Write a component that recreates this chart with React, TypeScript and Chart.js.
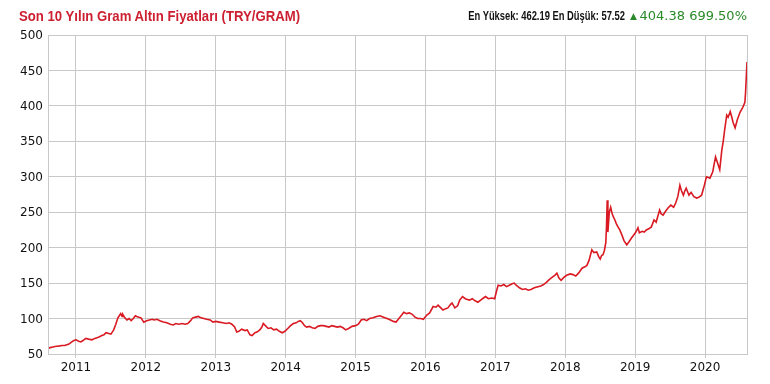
import React, { useEffect, useRef } from "react";
import { Chart, registerables } from "chart.js";

Chart.register(...registerables);

const titleText = "Son 10 Yılın Gram Altın Fiyatları (TRY/GRAM)";
const statsText = "En Yüksek: 462.19 En Düşük: 57.52";
const changeText = "404.38 699.50%";

const yearTicks = [2011, 2012, 2013, 2014, 2015, 2016, 2017, 2018, 2019, 2020];

const dates = [
  2010.60, 2010.63, 2010.67, 2010.70, 2010.73, 2010.77, 2010.80, 2010.84, 2010.87, 2010.90,
  2010.94, 2010.97, 2011.00, 2011.04, 2011.07, 2011.10, 2011.14, 2011.18, 2011.23, 2011.27,
  2011.30, 2011.33, 2011.37, 2011.40, 2011.43, 2011.47, 2011.50, 2011.54, 2011.57, 2011.60,
  2011.62, 2011.64, 2011.66, 2011.67, 2011.70, 2011.73, 2011.76, 2011.79, 2011.82, 2011.85,
  2011.87, 2011.90, 2011.93, 2011.97, 2012.01, 2012.05, 2012.09, 2012.12, 2012.16, 2012.20,
  2012.25, 2012.30, 2012.35, 2012.39, 2012.43, 2012.47, 2012.52, 2012.56, 2012.60, 2012.64,
  2012.67, 2012.71, 2012.75, 2012.79, 2012.83, 2012.87, 2012.92, 2012.96, 2013.00, 2013.05,
  2013.10, 2013.15, 2013.19, 2013.23, 2013.27, 2013.30, 2013.33, 2013.37, 2013.42, 2013.45,
  2013.49, 2013.52, 2013.56, 2013.59, 2013.63, 2013.66, 2013.68, 2013.71, 2013.75, 2013.79,
  2013.83, 2013.87, 2013.91, 2013.95, 2013.99, 2014.03, 2014.07, 2014.11, 2014.15, 2014.18,
  2014.21, 2014.24, 2014.27, 2014.30, 2014.34, 2014.38, 2014.42, 2014.46, 2014.50, 2014.54,
  2014.58, 2014.62, 2014.66, 2014.70, 2014.74, 2014.78, 2014.82, 2014.86, 2014.90, 2014.95,
  2015.00, 2015.04, 2015.08, 2015.12, 2015.16, 2015.20, 2015.25, 2015.30, 2015.35, 2015.40,
  2015.45, 2015.50, 2015.54, 2015.58, 2015.62, 2015.66, 2015.69, 2015.73, 2015.77, 2015.81,
  2015.85, 2015.89, 2015.93, 2015.97, 2016.02, 2016.06, 2016.11, 2016.15, 2016.18, 2016.22,
  2016.25, 2016.29, 2016.32, 2016.36, 2016.38, 2016.42, 2016.46, 2016.49, 2016.53, 2016.57,
  2016.60, 2016.63, 2016.67, 2016.71, 2016.75, 2016.79, 2016.83, 2016.86, 2016.90, 2016.95,
  2016.99, 2017.02, 2017.04, 2017.08, 2017.12, 2017.16, 2017.20, 2017.24, 2017.27, 2017.31,
  2017.35, 2017.39, 2017.43, 2017.47, 2017.51, 2017.55, 2017.58, 2017.61, 2017.65, 2017.69,
  2017.73, 2017.77, 2017.81, 2017.85, 2017.88, 2017.91, 2017.94, 2017.98, 2018.02, 2018.07,
  2018.11, 2018.15, 2018.19, 2018.24, 2018.28, 2018.31, 2018.34, 2018.38, 2018.41, 2018.45,
  2018.48, 2018.50, 2018.52, 2018.54, 2018.56, 2018.58, 2018.59, 2018.60, 2018.61, 2018.63,
  2018.65, 2018.67, 2018.69, 2018.71, 2018.73, 2018.75, 2018.78, 2018.81, 2018.84, 2018.88,
  2018.91, 2018.95, 2018.98, 2019.01, 2019.04, 2019.06, 2019.10, 2019.13, 2019.16, 2019.20,
  2019.23, 2019.27, 2019.30, 2019.35, 2019.37, 2019.40, 2019.44, 2019.47, 2019.51, 2019.55,
  2019.58, 2019.61, 2019.64, 2019.66, 2019.69, 2019.71, 2019.73, 2019.77, 2019.80, 2019.84,
  2019.88, 2019.91, 2019.95, 2019.99, 2020.02, 2020.07, 2020.11, 2020.13, 2020.15, 2020.18,
  2020.21, 2020.24, 2020.26, 2020.28, 2020.31, 2020.33, 2020.36, 2020.38, 2020.40, 2020.43,
  2020.46, 2020.50, 2020.54, 2020.57, 2020.58, 2020.59, 2020.60,
];

const prices = [
  57.5, 59, 60, 60.5, 61, 61.5, 62, 62, 63, 64,
  67, 69, 70, 68, 67, 69, 72, 71, 70, 72,
  73, 74, 76, 77, 80, 79, 78, 84, 92, 101,
  104, 107, 103, 106, 101, 98, 100, 97, 100, 104,
  103, 102, 101, 95, 97, 98, 99, 98, 99, 97,
  95, 94, 92, 91, 93, 92, 93, 92, 93, 97,
  101, 102, 103, 101, 100, 99, 98, 95, 96, 95,
  94, 93, 94, 92, 88, 81, 82, 85, 83, 84,
  77, 76, 80, 81, 84, 88, 93, 90, 86, 87,
  84, 85, 82, 80, 82, 86, 90, 93, 94, 96,
  97, 94, 90, 88, 89, 87, 86, 89, 90, 90,
  89, 88, 90, 89, 88, 89, 87, 84, 86, 89,
  90, 92, 98, 99, 97, 100, 101, 103, 104, 102,
  100, 98, 96, 95, 100, 105, 109, 107, 108, 106,
  102, 100, 100, 99, 105, 108, 117, 116, 119, 115,
  112, 114, 115, 120, 122, 115, 118, 126, 131, 128,
  127, 126, 128, 125, 123, 126, 129, 131, 128, 129,
  128, 140, 147, 146, 148, 145, 147, 149, 150, 146,
  143, 141, 142, 140, 141, 143, 144, 145, 146, 148,
  151, 155, 158, 161, 164, 157, 154, 158, 161, 163,
  162, 160, 164, 171, 173, 175, 182, 197, 193, 194,
  187, 184, 189, 190, 196, 207, 230, 267, 222, 250,
  257, 248, 243, 239, 234, 230, 225, 218, 210, 204,
  208, 214, 218, 222, 228, 221, 223, 222, 225, 227,
  229, 239, 236, 253, 248, 246, 252, 256, 260, 257,
  263, 272, 288, 281, 274, 280, 284, 274, 278, 272,
  270, 271, 274, 288, 300, 298, 307, 318, 328, 319,
  310, 338, 350, 366, 387, 384, 392, 385, 377, 369,
  380, 391, 398, 405, 420, 441, 462,
];

const gridColor = "#c8c8c8";
const lineColor = "#d91a22";
const tickFont = { family: "'DejaVu Sans', Verdana, sans-serif", size: 12 };
const headFont = "'Liberation Sans', Arial, sans-serif";

const frameBox = {
  id: "frameBox",
  afterDraw(chart: any) {
    const { ctx, chartArea } = chart;
    ctx.save();
    ctx.strokeStyle = gridColor;
    ctx.lineWidth = 1;
    ctx.strokeRect(
      Math.round(chartArea.left) + 0.5,
      Math.round(chartArea.top) + 0.5,
      Math.round(chartArea.right - chartArea.left),
      Math.round(chartArea.bottom - chartArea.top)
    );
    ctx.restore();
  },
};

export default function App() {
  const canvasRef = useRef<HTMLCanvasElement>(null);

  useEffect(() => {
    document.body.style.margin = "0";
    const points = dates.map((d, i) => ({ x: d, y: prices[i] }));
    const chart = new Chart(canvasRef.current as HTMLCanvasElement, {
      type: "line",
      data: {
        datasets: [
          {
            data: points,
            borderColor: lineColor,
            borderWidth: 1.6,
            pointRadius: 0,
            tension: 0,
            fill: false,
          },
        ],
      },
      options: {
        animation: false,
        responsive: false,
        devicePixelRatio: 1,
        layout: { padding: { top: 35, right: 23, left: 0, bottom: 0 } },
        plugins: {
          legend: { display: false },
          tooltip: { enabled: false },
          title: { display: false },
        },
        scales: {
          x: {
            type: "linear",
            min: 2010.6,
            max: 2020.6,
            afterBuildTicks: (scale: any) => {
              scale.ticks = yearTicks.map((v) => ({ value: v }));
            },
            afterFit: (scale: any) => {
              scale.height = 30;
            },
            ticks: {
              autoSkip: false,
              maxRotation: 0,
              padding: 3,
              color: "#111",
              font: tickFont,
              callback: (v: any) => String(v),
            },
            grid: { color: gridColor, tickLength: 4, drawTicks: true },
            border: { color: gridColor },
          },
          y: {
            type: "linear",
            min: 50,
            max: 500,
            afterFit: (scale: any) => {
              scale.width = 48;
            },
            ticks: {
              stepSize: 50,
              padding: 5,
              labelOffset: 1,
              color: "#111",
              font: tickFont,
            },
            grid: { color: gridColor, drawTicks: false },
            border: { color: gridColor },
          },
        },
      },
      plugins: [frameBox],
    });
    return () => chart.destroy();
  }, []);

  return (
    <div style={{ position: "relative", width: 770, height: 384, background: "#fff" }}>
      <canvas ref={canvasRef} width={770} height={384} style={{ display: "block" }} />
      <div
        style={{
          position: "absolute",
          left: 19,
          top: 8,
          whiteSpace: "nowrap",
          fontFamily: headFont,
          fontWeight: "bold",
          fontSize: 14,
          color: "#cc1f30",
          lineHeight: "16px",
          transform: "scaleX(0.94)",
          transformOrigin: "left center",
        }}
      >
        {titleText}
      </div>
      <div
        style={{
          position: "absolute",
          right: 145,
          top: 8,
          whiteSpace: "nowrap",
          fontFamily: headFont,
          fontWeight: "bold",
          fontSize: 12.5,
          color: "#111",
          lineHeight: "16px",
          transform: "scaleX(0.75)",
          transformOrigin: "right center",
        }}
      >
        {statsText}
      </div>
      <div
        style={{
          position: "absolute",
          left: 630,
          top: 8,
          whiteSpace: "nowrap",
          fontFamily: "'DejaVu Sans', sans-serif",
          fontSize: 9,
          color: "#2a8a2a",
          lineHeight: "16px",
        }}
      >
        ▲
      </div>
      <div
        style={{
          position: "absolute",
          right: 23,
          top: 8,
          whiteSpace: "nowrap",
          fontFamily: "'DejaVu Sans', Verdana, sans-serif",
          fontSize: 13,
          color: "#2a8a2a",
          lineHeight: "16px",
        }}
      >
        {changeText}
      </div>
    </div>
  );
}
